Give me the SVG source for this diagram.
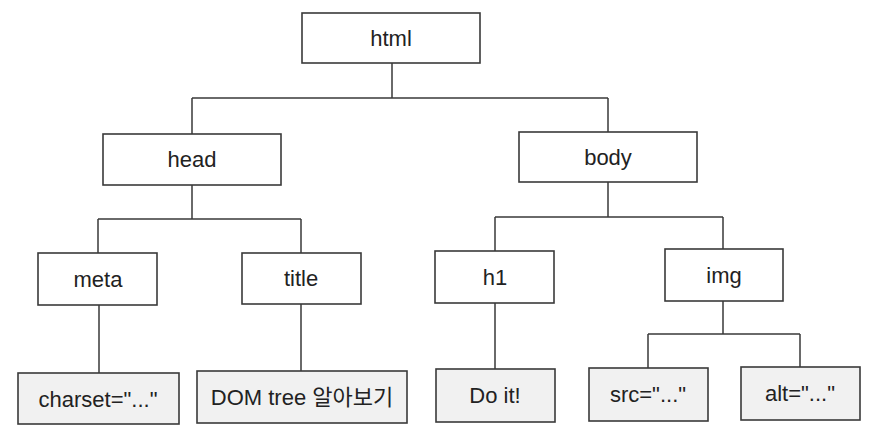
<svg xmlns="http://www.w3.org/2000/svg" width="892" height="446" viewBox="0 0 892 446">
<style>
.box{fill:#ffffff;stroke:#3a3a3a;stroke-width:1.6}
.leaf{fill:#f1f1f1;stroke:#3a3a3a;stroke-width:1.6}
.lbl{font-family:"Liberation Sans","Noto Sans CJK KR",sans-serif;font-size:22px;fill:#222;text-anchor:middle;dominant-baseline:central}
.conn{fill:none;stroke:#3a3a3a;stroke-width:1.5}
</style>
<rect width="892" height="446" fill="#ffffff"/>
<g id="connectors">
<path class="conn" d="M392 63V98M192 98H608M192 98V134M608 98V132"/>
<path class="conn" d="M192 185V219M98 219H301M98 219V253M301 219V253"/>
<path class="conn" d="M608 182V217M495 217H723M495 217V251M723 217V249"/>
<path class="conn" d="M99 305V373M301 304V371M495 303V369"/>
<path class="conn" d="M723 301V334M648 334H800M648 334V368M800 334V367"/>
</g>
<g id="html"><rect class="box" x="302" y="13" width="178" height="50"/><text class="lbl" x="391" y="38">html</text></g>
<g id="head"><rect class="box" x="103" y="134" width="178" height="51"/><text class="lbl" x="192" y="159">head</text></g>
<g id="body"><rect class="box" x="519" y="132" width="178" height="50"/><text class="lbl" x="608" y="157">body</text></g>
<g id="meta"><rect class="box" x="38" y="253" width="119" height="52"/><text class="lbl" x="98" y="279">meta</text></g>
<g id="title"><rect class="box" x="242" y="253" width="119" height="51"/><text class="lbl" x="301" y="278">title</text></g>
<g id="h1"><rect class="box" x="435" y="251" width="119" height="52"/><text class="lbl" x="495" y="277">h1</text></g>
<g id="img"><rect class="box" x="665" y="249" width="118" height="52"/><text class="lbl" x="724" y="275">img</text></g>
<g id="charset"><rect class="leaf" x="18" y="373" width="161" height="51"/><text class="lbl" x="98" y="399">charset="..."</text></g>
<g id="titletext"><rect class="leaf" x="197" y="371" width="210" height="52"/><text class="lbl" x="302" y="397">DOM tree 알아보기</text></g>
<g id="h1text"><rect class="leaf" x="436" y="369" width="119" height="53"/><text class="lbl" x="495" y="395">Do it!</text></g>
<g id="src"><rect class="leaf" x="589" y="368" width="119" height="53"/><text class="lbl" x="648" y="394">src="..."</text></g>
<g id="alt"><rect class="leaf" x="741" y="367" width="119" height="53"/><text class="lbl" x="800" y="393">alt="..."</text></g>
</svg>
